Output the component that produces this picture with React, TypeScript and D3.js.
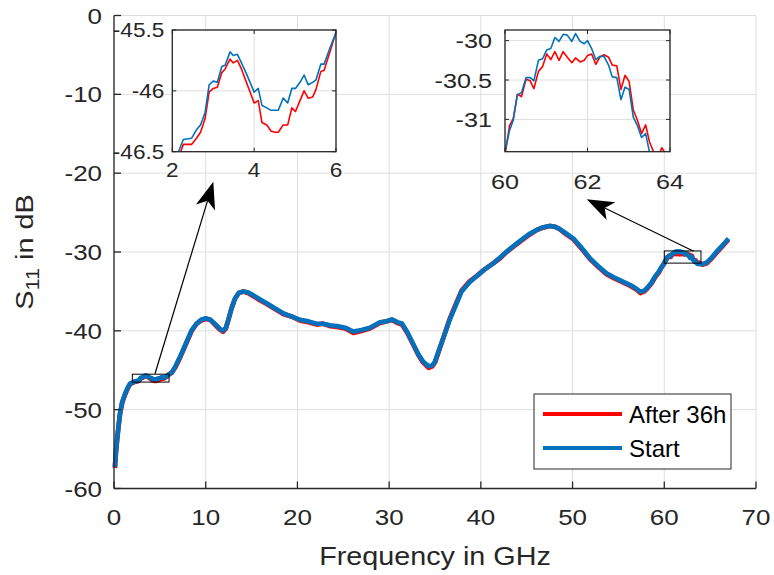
import React from 'react';
import * as d3 from 'd3';

type Pt = [number, number];

// main trace, coarse points outside the two zoomed windows
const freqMain = [
  0.1, 0.2, 0.36, 0.5, 0.65, 0.9, 1.2, 1.5, 1.74, 2.0,
  6.3, 6.7, 7.2, 7.8, 8.47, 9.0, 9.5, 10.0, 10.5, 11.0,
  11.5, 11.9, 12.2, 12.47, 12.8, 13.2, 13.6, 14.1, 14.6, 15.2,
  15.9, 16.65, 17.5, 18.5, 19.4, 20.3, 21.2, 22.1, 22.8, 23.55,
  24.3, 25.2, 26.1, 27.0, 27.9, 29.0, 29.7, 30.3, 30.9, 31.4,
  32.0, 32.6, 33.2, 33.7, 34.3, 34.7, 35.0, 35.5, 36.1, 36.6,
  37.2, 37.9, 38.8, 39.6, 40.3, 41.4, 42.1, 42.8, 43.7, 44.6,
  45.3, 46.1, 46.8, 47.5, 48.1, 48.6, 49.0, 50.1, 51.0, 51.9,
  52.8, 53.7, 54.5, 55.2, 56.3, 56.9, 57.4, 57.8, 58.1, 58.6,
  59.0, 59.4, 59.7, 63.7, 63.8, 64.1, 64.6, 65.1, 65.7, 66.4,
  67.0,
];
const startMain = [
  -57.3, -55.5, -53.5, -52.0, -50.5, -49.0, -48.0, -47.2, -46.7, -46.55,
  -45.3, -44.5, -43.3, -41.7, -39.9, -39.1, -38.6, -38.4, -38.6, -39.1,
  -39.7, -40.0, -39.6, -38.6, -37.2, -35.9, -35.2, -35.0, -35.1, -35.5,
  -36.0, -36.5, -37.1, -37.8, -38.2, -38.6, -38.8, -39.1, -39.1, -39.3,
  -39.4, -39.6, -40.1, -39.9, -39.6, -38.9, -38.8, -38.55, -38.9, -39.07,
  -40.2, -41.6, -43.0, -43.9, -44.5, -44.4, -43.9, -42.2, -40.3, -38.6,
  -36.95, -35.0, -33.8, -33.0, -32.3, -31.4, -30.7, -29.96, -29.1, -28.3,
  -27.7, -27.2, -26.85, -26.7, -26.8, -27.1, -27.4, -28.3, -29.5, -30.8,
  -31.8, -32.7, -33.2, -33.6, -34.2, -34.6, -35.05, -34.9, -34.6, -33.9,
  -33.1, -32.5, -31.9, -31.5, -31.52, -31.55, -31.35, -30.8, -29.96, -29.1,
  -28.3,
];
const afterMain = [
  -57.4, -55.6, -53.6, -52.1, -50.6, -49.1, -48.1, -47.3, -46.8, -46.6,
  -45.3, -44.6, -43.4, -41.8, -40.0, -39.1, -38.7, -38.5, -38.6, -39.2,
  -39.8, -40.1, -39.7, -38.6, -37.2, -35.9, -35.2, -35.0, -35.2, -35.6,
  -36.1, -36.6, -37.2, -37.9, -38.2, -38.7, -38.9, -39.2, -39.1, -39.4,
  -39.5, -39.7, -40.25, -40.0, -39.7, -39.0, -38.8, -38.6, -39.0, -39.2,
  -40.3, -41.7, -43.1, -44.0, -44.7, -44.5, -44.0, -42.3, -40.2, -38.5,
  -36.8, -34.9, -33.7, -33.0, -32.3, -31.4, -30.8, -30.0, -29.2, -28.4,
  -27.8, -27.2, -26.9, -26.7, -26.8, -27.1, -27.5, -28.4, -29.6, -30.9,
  -31.9, -32.8, -33.3, -33.7, -34.3, -34.7, -35.2, -35.0, -34.7, -34.0,
  -33.2, -32.6, -31.95, -31.5, -31.36, -31.6, -31.45, -30.9, -30.1, -29.2,
  -28.4,
];

// 2-6 GHz detail
const inset1Freq = [
  2.15, 2.27, 2.47, 2.59, 2.69, 2.8, 2.9, 3.0, 3.1, 3.21,
  3.29, 3.41, 3.49, 3.59, 3.69, 3.8, 3.9, 4.0, 4.1, 4.19,
  4.31, 4.41, 4.51, 4.59, 4.71, 4.82, 4.92, 5.01, 5.12, 5.22,
  5.32, 5.43, 5.51, 5.63, 5.71, 5.85, 6.0,
];
const inset1Start = [
  -46.5, -46.4, -46.39, -46.32, -46.28, -46.18, -45.95, -45.92, -45.93, -45.8,
  -45.79, -45.68, -45.71, -45.7, -45.77, -45.85, -45.93, -46.01, -45.98, -46.12,
  -46.14, -46.16, -46.16, -46.16, -46.06, -46.1, -45.98, -45.98, -45.93, -45.87,
  -45.95, -45.93, -45.91, -45.78, -45.78, -45.65, -45.52,
];
const inset1After = [
  -46.55, -46.44, -46.44, -46.39, -46.34, -46.23, -46.01, -45.98, -45.97, -45.85,
  -45.82, -45.74, -45.77, -45.75, -45.82, -45.92, -46.01, -46.1, -46.08, -46.26,
  -46.28, -46.33, -46.34, -46.34, -46.28, -46.28, -46.14, -46.17, -46.08, -46.0,
  -46.06, -46.05, -45.99, -45.84, -45.83, -45.68, -45.52,
];

// 60-64 GHz detail
const inset2Freq = [
  60.0, 60.11, 60.2, 60.3, 60.4, 60.51, 60.61, 60.7, 60.81, 60.91,
  61.01, 61.11, 61.21, 61.31, 61.41, 61.51, 61.62, 61.71, 61.82, 61.92,
  62.0, 62.1, 62.2, 62.3, 62.4, 62.51, 62.6, 62.71, 62.81, 62.91,
  63.01, 63.11, 63.21, 63.31, 63.41, 63.5, 63.6,
];
const inset2Start = [
  -31.41, -31.14, -31.01, -30.69, -30.66, -30.47, -30.47, -30.51, -30.25, -30.23,
  -30.12, -30.1, -29.96, -30.01, -29.92, -29.93, -30.01, -29.91, -30.01, -30.04,
  -30.0, -30.1, -30.24, -30.2, -30.2, -30.31, -30.46, -30.47, -30.75, -30.59,
  -30.62, -30.97, -31.08, -31.23, -31.18, -31.41, -31.48,
];
const inset2After = [
  -31.45, -31.08, -30.99, -30.68, -30.71, -30.49, -30.51, -30.61, -30.39, -30.33,
  -30.17, -30.24, -30.14, -30.25, -30.14, -30.21, -30.28, -30.22, -30.27, -30.25,
  -30.19, -30.17, -30.3, -30.21, -30.18, -30.21, -30.31, -30.32, -30.62, -30.44,
  -30.52, -30.88, -31.01, -31.18, -31.07, -31.28, -31.41,
];

const xTicks = [0, 10, 20, 30, 40, 50, 60, 70];
const yTicks = [-60, -50, -40, -30, -20, -10, 0];
const inset1XDomain = [2, 6];
const inset1YDomain = [-46.5, -45.5];
const inset1XTicks = [2, 4, 6];
const inset1YTicks = [-46.5, -46, -45.5];
const inset2XDomain = [60, 64];
const inset2YDomain = [-31.41, -29.865];
const inset2XTicks = [60, 62, 64];
const inset2YTicks = [-31, -30.5, -30];
const seriesNames = ['After 36h', 'Start'];

const RED = '#FF0000';
const BLUE = '#0072BD';
const AXIS = '#262626';
const GRID = '#dedede';
const FONT = '"Liberation Sans", Arial, Helvetica, sans-serif';

const zip = (f: number[], v: number[]): Pt[] => f.map((d, i) => [d, v[i]] as Pt);
const merge = (...parts: Pt[][]): Pt[] => parts.flat().sort((a, b) => a[0] - b[0]);

const startSeries = merge(zip(freqMain, startMain), zip(inset1Freq, inset1Start), zip(inset2Freq, inset2Start));
const afterSeries = merge(zip(freqMain, afterMain), zip(inset1Freq, inset1After), zip(inset2Freq, inset2After));

const W = 774;
const H = 575;
const x = d3.scaleLinear().domain([0, 70]).range([114, 756]);
const y = d3.scaleLinear().domain([-60, 0]).range([488.5, 15.5]);

// text in the figure is a bit wider than Arial, stretch it horizontally
const Label: React.FC<{
  x: number; y: number; size: number; anchor?: string; sx?: number; rotate?: number; children: React.ReactNode;
}> = ({ x, y, size, anchor = 'middle', sx = 1.18, rotate = 0, children }) => (
  <text
    transform={`translate(${x},${y})${rotate ? ` rotate(${rotate})` : ''} scale(${sx},1)`}
    textAnchor={anchor}
    fontSize={size}
    fontFamily={FONT}
    fill={AXIS}
  >
    {children}
  </text>
);

const arrow = (from: Pt, to: Pt) => {
  const x1 = x(from[0]), y1 = y(from[1]), x2 = x(to[0]), y2 = y(to[1]);
  const a = Math.atan2(y2 - y1, x2 - x1);
  const L = 27, hw = 10, notch = 20;
  const ux = Math.cos(a), uy = Math.sin(a);
  const bx = x2 - ux * L, by = y2 - uy * L;
  const nx = x2 - ux * notch, ny = y2 - uy * notch;
  const head = `M${x2},${y2}L${bx - uy * hw},${by + ux * hw}L${nx},${ny}L${bx + uy * hw},${by - ux * hw}Z`;
  return { line: { x1, y1, x2: nx, y2: ny }, head };
};

interface InsetProps {
  id: string;
  box: { x0: number; x1: number; y0: number; y1: number };
  xDomain: number[];
  yDomain: number[];
  xTicks: number[];
  yTicks: number[];
  fontSize: number;
  sx: number;
  yLabelGap: number;
  xLabelY: number;
}

const Inset: React.FC<InsetProps> = ({ id, box, xDomain, yDomain, xTicks, yTicks, fontSize, sx, yLabelGap, xLabelY }) => {
  const ix = d3.scaleLinear().domain(xDomain).range([box.x0, box.x1]);
  const iy = d3.scaleLinear().domain(yDomain).range([box.y1, box.y0]);
  const line = d3.line<Pt>().x(d => ix(d[0])).y(d => iy(d[1]));
  const w = box.x1 - box.x0;
  const h = box.y1 - box.y0;
  const tk = 4;
  return (
    <g>
      <defs>
        <clipPath id={id}>
          <rect x={box.x0} y={box.y0} width={w} height={h} />
        </clipPath>
      </defs>
      <rect x={box.x0} y={box.y0} width={w} height={h} fill="#fff" />
      {xTicks.map(t => (
        <line key={'gx' + t} x1={ix(t)} x2={ix(t)} y1={box.y0} y2={box.y1} stroke={GRID} strokeWidth={1} />
      ))}
      {yTicks.map(t => (
        <line key={'gy' + t} x1={box.x0} x2={box.x1} y1={iy(t)} y2={iy(t)} stroke={GRID} strokeWidth={1} />
      ))}
      <g clipPath={`url(#${id})`}>
        <path d={line(afterSeries) || ''} fill="none" stroke={RED} strokeWidth={1.6} strokeLinejoin="round" />
        <path d={line(startSeries) || ''} fill="none" stroke={BLUE} strokeWidth={1.6} strokeLinejoin="round" />
      </g>
      {xTicks.map(t => (
        <g key={'tx' + t} stroke={AXIS} strokeWidth={1}>
          <line x1={ix(t)} x2={ix(t)} y1={box.y1} y2={box.y1 - tk} />
          <line x1={ix(t)} x2={ix(t)} y1={box.y0} y2={box.y0 + tk} />
        </g>
      ))}
      {yTicks.map(t => (
        <g key={'ty' + t} stroke={AXIS} strokeWidth={1}>
          <line x1={box.x0} x2={box.x0 + tk} y1={iy(t)} y2={iy(t)} />
          <line x1={box.x1} x2={box.x1 - tk} y1={iy(t)} y2={iy(t)} />
        </g>
      ))}
      <rect x={box.x0} y={box.y0} width={w} height={h} fill="none" stroke={AXIS} strokeWidth={1.3} />
      {xTicks.map(t => (
        <Label key={'lx' + t} x={ix(t)} y={xLabelY} size={fontSize} sx={sx}>{String(t)}</Label>
      ))}
      {yTicks.map(t => (
        <Label key={'ly' + t} x={box.x0 - yLabelGap} y={iy(t) + fontSize * 0.36} size={fontSize} sx={sx} anchor="end">
          {String(t)}
        </Label>
      ))}
    </g>
  );
};

const App: React.FC = () => {
  const line = d3.line<Pt>().x(d => x(d[0])).y(d => y(d[1]));
  const a1 = arrow([4.47, -45.45], [10.83, -21.08]);
  const a2 = arrow([63.2, -29.9], [51.54, -23.32]);
  const [x0, x1] = x.range();
  const [y0, y1] = y.range();

  return (
    <svg width={W} height={H} style={{ position: 'absolute', left: 0, top: 0, background: '#fff' }}>
      {/* grid */}
      {xTicks.map(t => (
        <line key={'gx' + t} x1={x(t)} x2={x(t)} y1={y1} y2={y0} stroke={GRID} strokeWidth={1} />
      ))}
      {yTicks.map(t => (
        <line key={'gy' + t} x1={x0} x2={x1} y1={y(t)} y2={y(t)} stroke={GRID} strokeWidth={1} />
      ))}

      {/* traces */}
      <path d={line(afterSeries) || ''} fill="none" stroke={RED} strokeWidth={4.8} strokeLinejoin="round" />
      <path d={line(startSeries) || ''} fill="none" stroke={BLUE} strokeWidth={4.6} strokeLinejoin="round" />

      {/* zoom windows */}
      <rect
        x={x(inset1XDomain[0])} y={y(inset1YDomain[1])}
        width={x(inset1XDomain[1]) - x(inset1XDomain[0])} height={y(inset1YDomain[0]) - y(inset1YDomain[1])}
        fill="none" stroke="#000" strokeWidth={1}
      />
      <rect
        x={x(inset2XDomain[0])} y={y(inset2YDomain[1])}
        width={x(inset2XDomain[1]) - x(inset2XDomain[0])} height={y(inset2YDomain[0]) - y(inset2YDomain[1])}
        fill="none" stroke="#000" strokeWidth={1}
      />
      {[a1, a2].map((a, i) => (
        <g key={'a' + i}>
          <line {...a.line} stroke="#000" strokeWidth={1.2} />
          <path d={a.head} fill="#000" />
        </g>
      ))}

      {/* axes */}
      <line x1={x0} x2={x0} y1={y1} y2={y0} stroke={AXIS} strokeWidth={1.3} />
      <line x1={x0} x2={x1} y1={y0} y2={y0} stroke={AXIS} strokeWidth={1.3} />
      {xTicks.map(t => (
        <g key={'tx' + t}>
          <line x1={x(t)} x2={x(t)} y1={y0} y2={y0 - 7} stroke={AXIS} strokeWidth={1.3} />
          <Label x={x(t)} y={525} size={22}>{String(t)}</Label>
        </g>
      ))}
      {yTicks.map(t => (
        <g key={'ty' + t}>
          <line x1={x0} x2={x0 + 7} y1={y(t)} y2={y(t)} stroke={AXIS} strokeWidth={1.3} />
          <Label x={102} y={y(t) + 8} size={22} anchor="end">{String(t)}</Label>
        </g>
      ))}
      <Label x={(x0 + x1) / 2} y={565} size={25} sx={1.15}>Frequency in GHz</Label>
      <Label x={33} y={(y0 + y1) / 2} size={24} sx={1.2} rotate={-90}>
        S<tspan dy={6} fontSize={18}>11</tspan><tspan dy={-6}>{' in dB'}</tspan>
      </Label>

      {/* insets */}
      <Inset
        id="clip-inset1"
        box={{ x0: 172.3, x1: 336, y0: 30, y1: 151.7 }}
        xDomain={inset1XDomain}
        yDomain={inset1YDomain}
        xTicks={inset1XTicks}
        yTicks={inset1YTicks}
        fontSize={20}
        sx={1.13}
        yLabelGap={8}
        xLabelY={177}
      />
      <Inset
        id="clip-inset2"
        box={{ x0: 505, x1: 670, y0: 30, y1: 151.7 }}
        xDomain={inset2XDomain}
        yDomain={inset2YDomain}
        xTicks={inset2XTicks}
        yTicks={inset2YTicks}
        fontSize={21}
        sx={1.2}
        yLabelGap={13}
        xLabelY={189}
      />

      {/* legend */}
      <g>
        <rect x={534} y={394} width={197} height={75} fill="#fff" stroke={AXIS} strokeWidth={1} />
        {seriesNames.map((name, i) => (
          <g key={name}>
            <line x1={543} x2={622} y1={414 + i * 34} y2={414 + i * 34} stroke={i === 0 ? RED : BLUE} strokeWidth={4} />
            <text x={629} y={423 + i * 34} fontSize={24} fontFamily={FONT} fill="#000">{name}</text>
          </g>
        ))}
      </g>
    </svg>
  );
};

export default App;
